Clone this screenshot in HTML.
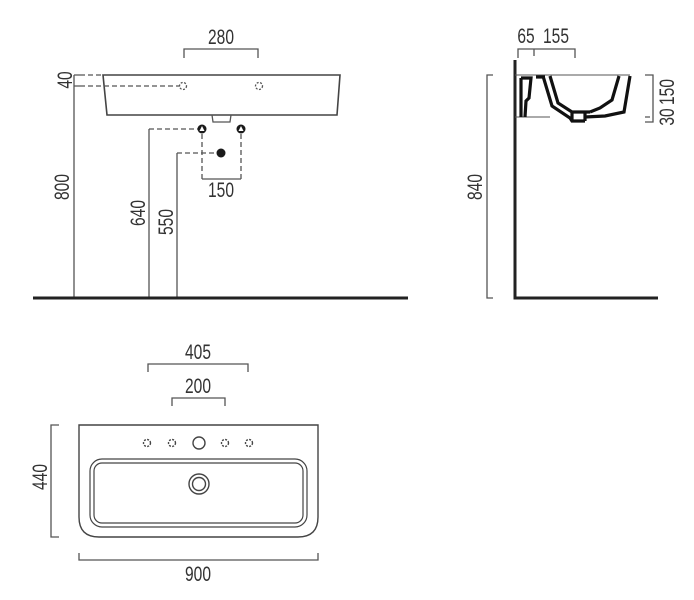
<!DOCTYPE html>
<html><head><meta charset="utf-8"><style>
html,body{margin:0;padding:0;background:#fff;}
svg{display:block}
text{font-family:"Liberation Sans",sans-serif;font-size:21px;fill:#333;text-anchor:middle}
</style></head><body>
<svg width="694" height="600" viewBox="0 0 694 600" xmlns="http://www.w3.org/2000/svg">
<g stroke="#555" fill="none" stroke-width="1.3">
<path d="M103 75 L340 75 L337 115 L107 115 Z" stroke="#444" stroke-width="1.6"/>
<path d="M212 115 L213 122 L230 122 L231 115" />
<path d="M80 75 L103 75 M80 86 L180 86 M149 129 L198 129 M177 153 L217 153 M202 134 L202 179 M241 134 L241 179" stroke-dasharray="5,3"/>
<path d="M74 75 L80 75 M74 86 L80 86"/>
<circle cx="183" cy="86" r="3.5" stroke-dasharray="2,1.5"/>
<circle cx="259" cy="86" r="3.5" stroke-dasharray="2,1.5"/>
<path d="M74 75 L74 298 M149 129 L149 298 M177 153 L177 298"/>
<path d="M184 58 L184 49 L258 49 L258 58"/>
<path d="M202 179 L241 179"/>
<line x1="33" y1="298" x2="408" y2="298" stroke="#222" stroke-width="3"/>
<path d="M515 60 L515 298 L658 298" stroke="#222" stroke-width="3"/>
<path d="M518 58 L518 49 L575 49 L575 58 M534 49 L534 56"/>
<path d="M493 75 L487 75 L487 298 L493 298"/>
<path d="M645 75 L653 75 L653 122 L645 122 M645 117 L650 117"/>
<path d="M515 75 L630 75" stroke-width="1"/>
<path d="M515 117 L550 117" stroke-width="1"/>
</g>
<g stroke="#111" stroke-width="3.2" fill="none" stroke-linejoin="miter">
<path d="M521 78 L531 78 L529 98 L526 101 L525 117"/>
<path d="M521 78 L521 117"/>
<path d="M536 77 L545 77"/>
<path d="M543 76 L552 106 L570 118 L572 121 L585 121"/>
<path d="M550 76 L558 103 L572 112 L590 112"/>
<path d="M572 113 L572 121 M585 113 L585 121"/>
<path d="M619 76 L612 100 L600 108 L590 112"/>
<path d="M630 76 L624 112 L605 116 L585 117"/>
</g>
<g fill="#1a1a1a" stroke="none">
<circle cx="202" cy="129" r="4.5"/>
<circle cx="241" cy="129" r="4.5"/>
<circle cx="221" cy="153" r="4.5"/>
</g>
<g fill="#fff"><path d="M199.5 131 L202 126 L204.5 131 Z"/><path d="M238.5 131 L241 126 L243.5 131 Z"/></g>
<g stroke="#444" fill="none" stroke-width="1.4">
<path d="M79 425 L318 425 L318 517 Q318 537 298 537 L99 537 Q79 537 79 517 Z"/>
<rect x="90" y="459" width="217" height="68" rx="12" stroke-width="1.2"/>
<rect x="94" y="463" width="209" height="60" rx="8" stroke-width="1.2"/>
<circle cx="199" cy="484" r="10"/>
<circle cx="199" cy="484" r="6.5"/>
<circle cx="199" cy="443" r="6"/>
<circle cx="147" cy="443" r="3.5" stroke-dasharray="2,1.3"/>
<circle cx="172" cy="443" r="3.5" stroke-dasharray="2,1.3"/>
<circle cx="225" cy="443" r="3.5" stroke-dasharray="2,1.3"/>
<circle cx="249" cy="443" r="3.5" stroke-dasharray="2,1.3"/>
</g>
<g stroke="#555" fill="none" stroke-width="1.3">
<path d="M148 372 L148 364 L248 364 L248 372"/>
<path d="M172 406 L172 398 L225 398 L225 406"/>
<path d="M59 425 L51 425 L51 537 L59 537"/>
<path d="M79 553 L79 560 L318 560 L318 553"/>
</g>
<g>
<text transform="translate(221,44) scale(0.74,1)">280</text>
<text transform="translate(221,197) scale(0.74,1)">150</text>
<text transform="translate(72,80) rotate(-90) scale(0.74,1)">40</text>
<text transform="translate(69,187) rotate(-90) scale(0.74,1)">800</text>
<text transform="translate(145,213) rotate(-90) scale(0.74,1)">640</text>
<text transform="translate(173,222) rotate(-90) scale(0.74,1)">550</text>
<text transform="translate(526,43) scale(0.74,1)">65</text>
<text transform="translate(556,43) scale(0.74,1)">155</text>
<text transform="translate(482,187) rotate(-90) scale(0.74,1)">840</text>
<text transform="translate(674,92) rotate(-90) scale(0.74,1)">150</text>
<text transform="translate(674,117) rotate(-90) scale(0.74,1)">30</text>
<text transform="translate(198,359) scale(0.74,1)">405</text>
<text transform="translate(198,393) scale(0.74,1)">200</text>
<text transform="translate(47,477) rotate(-90) scale(0.74,1)">440</text>
<text transform="translate(198,581) scale(0.74,1)">900</text>
</g>
</svg>
</body></html>
